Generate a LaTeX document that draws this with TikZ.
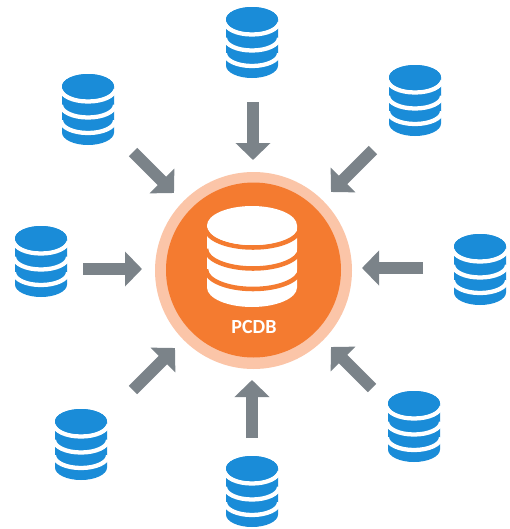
\documentclass[tikz,border=0pt]{standalone}
\usepackage{fontspec}
\setmainfont{Carlito}
\usetikzlibrary{arrows.meta}
\definecolor{dbblue}{HTML}{1A8CD8}
\definecolor{hubor}{HTML}{F47B30}
\definecolor{hubring}{HTML}{FBC5A8}
\definecolor{arrgray}{HTML}{7B8389}
\tikzset{
  feed/.style={draw=arrgray,line width=9pt,-{Triangle[length=12.75pt,width=25.5pt,fill=arrgray]},shorten >=0pt},
  dbslot/.style={inner sep=0pt,minimum width=52*0.75pt,minimum height=71*0.75pt}
}
% #1 name, #2 x, #3 top y : small blue database
\newcommand{\smalldb}[3]{%
  \node[dbslot] (#1) at (#2,#3+35.5) {};
  \fill[dbblue] (#2-26,#3+12.5) arc[start angle=180,end angle=0,x radius=26,y radius=-12.5]
     -- (#2+26,#3+58.5) arc[start angle=0,end angle=-180,x radius=26,y radius=-12.5] -- cycle;
  \foreach \o in {15,31,46.5}{
    \draw[white,line width=3.2pt] (#2-27,#3+\o) arc[start angle=180,end angle=360,x radius=27,y radius=-12.5];
  }
  \fill[dbblue] (#2,#3+12.5) ellipse[x radius=26,y radius=12.5];
}
\begin{document}
\begin{tikzpicture}[x=0.75pt,y=-0.75pt]
\useasboundingbox (0,0) rectangle (510,529);
\fill[white] (0,0) rectangle (510,529);
% hub
\node[circle,fill=hubring,inner sep=0pt,minimum size=197*0.75pt] (ring) at (253.5,270.5) {};
\node[circle,fill=hubor,inner sep=0pt,minimum size=175*0.75pt] (hub) at (253.5,270) {};
\fill[white] (207,225.5) -- (207,287.5) arc[start angle=180,end angle=360,x radius=45,y radius=-19.5] -- (297,225.5) -- cycle;
\foreach \c in {228,249,269.5}{
  \draw[hubor,line width=3.4pt] (206,\c) arc[start angle=180,end angle=360,x radius=47,y radius=-19.5];
}
\fill[white] (252,225.5) ellipse[x radius=45,y radius=19.5];
\node[text=white,font=\bfseries\fontsize{15}{15}\selectfont,inner sep=0pt] (lab) at (254,327.5) {PCDB};
% databases
\smalldb{dbT}{252}{7}
\smalldb{dbUL}{88}{74}
\smalldb{dbUR}{415}{65}
\smalldb{dbL}{41}{226}
\smalldb{dbR}{480}{234}
\smalldb{dbLL}{81}{409}
\smalldb{dbB}{252}{456}
\smalldb{dbLR}{414}{391}
% arrow ends
\coordinate (tT) at (253,102);   \coordinate (hT) at (253,160);
\coordinate (tB) at (252,438);   \coordinate (hB) at (252,380);
\coordinate (tL) at (83,269);    \coordinate (hL) at (142,269);
\coordinate (tR) at (423,268);   \coordinate (hR) at (362,268);
\coordinate (tUL) at (133,152);  \coordinate (hUL) at (174,193);
\coordinate (tUR) at (373,150);  \coordinate (hUR) at (331,192);
\coordinate (tLL) at (133,390);  \coordinate (hLL) at (175,348);
\coordinate (tLR) at (372,388);  \coordinate (hLR) at (331,347);
\foreach \n in {T,B,L,R,UL,UR,LL,LR}{
  \draw[feed] (t\n) -- (h\n);
}
\end{tikzpicture}
\end{document}
